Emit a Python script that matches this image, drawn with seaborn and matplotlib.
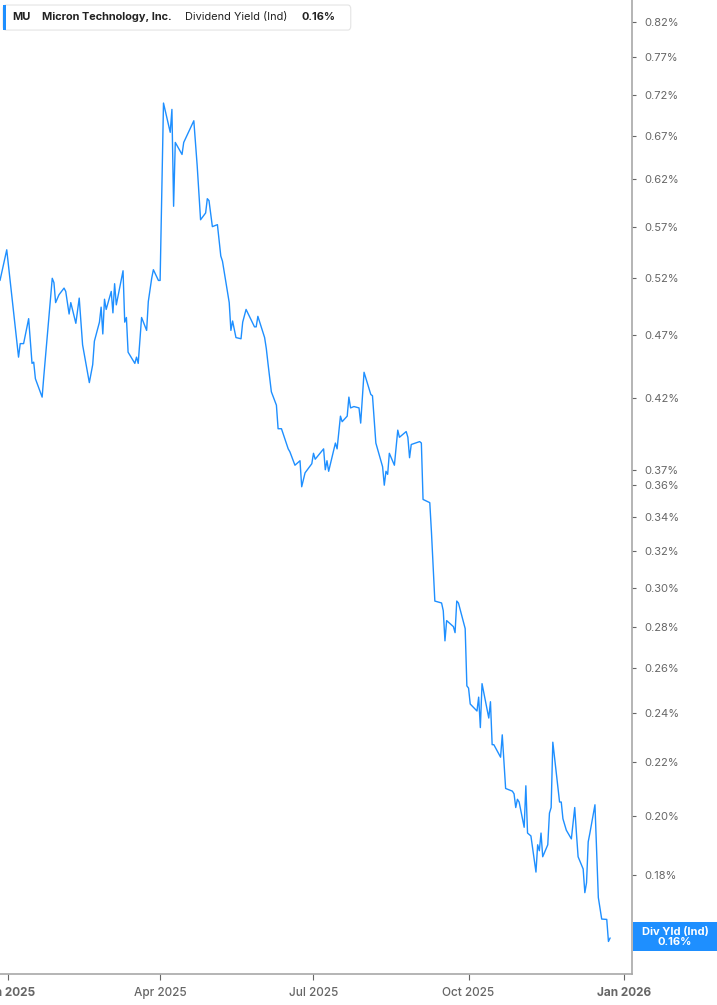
import pandas as pd
import matplotlib
matplotlib.use("Agg")
import matplotlib.pyplot as plt
from matplotlib.patches import Rectangle, FancyBboxPatch
from matplotlib.ticker import FixedLocator, NullLocator, FixedFormatter
import seaborn as sns

# values (dividend yield, %)
dates = [
    "2024-12-27", "2024-12-31", "2025-01-07", "2025-01-08", "2025-01-10", "2025-01-13",
    "2025-01-15", "2025-01-16", "2025-01-17", "2025-01-21", "2025-01-22", "2025-01-27",
    "2025-01-28", "2025-01-29", "2025-01-31", "2025-02-03", "2025-02-04", "2025-02-06",
    "2025-02-07", "2025-02-10", "2025-02-12", "2025-02-14", "2025-02-18", "2025-02-20",
    "2025-02-21", "2025-02-24", "2025-02-25", "2025-02-26", "2025-02-27", "2025-02-28",
    "2025-03-03", "2025-03-04", "2025-03-05", "2025-03-06", "2025-03-10", "2025-03-11",
    "2025-03-12", "2025-03-13", "2025-03-17", "2025-03-18", "2025-03-19", "2025-03-21",
    "2025-03-24", "2025-03-25", "2025-03-27", "2025-03-28", "2025-03-31", "2025-04-01",
    "2025-04-03", "2025-04-07", "2025-04-08", "2025-04-09", "2025-04-10", "2025-04-14",
    "2025-04-15", "2025-04-21", "2025-04-23", "2025-04-25", "2025-04-28", "2025-04-29",
    "2025-04-30", "2025-05-02", "2025-05-05", "2025-05-07", "2025-05-08", "2025-05-12",
    "2025-05-13", "2025-05-14", "2025-05-16", "2025-05-19", "2025-05-20", "2025-05-22",
    "2025-05-27", "2025-05-28", "2025-05-29", "2025-06-02", "2025-06-03", "2025-06-04",
    "2025-06-06", "2025-06-09", "2025-06-10", "2025-06-12", "2025-06-16", "2025-06-17",
    "2025-06-20", "2025-06-23", "2025-06-24", "2025-06-26", "2025-06-30", "2025-07-01",
    "2025-07-02", "2025-07-07", "2025-07-08", "2025-07-09", "2025-07-10", "2025-07-14",
    "2025-07-15", "2025-07-17", "2025-07-18", "2025-07-21", "2025-07-22", "2025-07-23",
    "2025-07-25", "2025-07-28", "2025-07-29", "2025-07-31", "2025-08-04", "2025-08-05",
    "2025-08-07", "2025-08-11", "2025-08-12", "2025-08-13", "2025-08-14", "2025-08-15",
    "2025-08-18", "2025-08-20", "2025-08-21", "2025-08-25", "2025-08-26", "2025-08-27",
    "2025-08-28", "2025-09-02", "2025-09-03", "2025-09-04", "2025-09-08", "2025-09-09",
    "2025-09-11", "2025-09-15", "2025-09-16", "2025-09-17", "2025-09-18", "2025-09-22",
    "2025-09-23", "2025-09-24", "2025-09-25", "2025-09-29", "2025-09-30", "2025-10-01",
    "2025-10-02", "2025-10-06", "2025-10-07", "2025-10-08", "2025-10-09", "2025-10-13",
    "2025-10-14", "2025-10-15", "2025-10-16", "2025-10-20", "2025-10-21", "2025-10-23",
    "2025-10-27", "2025-10-28", "2025-10-29", "2025-10-30", "2025-10-31", "2025-11-03",
    "2025-11-04", "2025-11-05", "2025-11-07", "2025-11-10", "2025-11-11", "2025-11-12",
    "2025-11-13", "2025-11-14", "2025-11-17", "2025-11-18", "2025-11-19", "2025-11-20",
    "2025-11-24", "2025-11-25", "2025-11-26", "2025-11-28", "2025-12-01", "2025-12-03",
    "2025-12-04", "2025-12-05", "2025-12-08", "2025-12-09", "2025-12-10", "2025-12-11",
    "2025-12-12", "2025-12-15", "2025-12-17", "2025-12-19", "2025-12-22", "2025-12-23",
    "2025-12-24",
]
div_yield = [
    0.518, 0.547, 0.452, 0.463, 0.463, 0.484,
    0.447, 0.448, 0.435, 0.421, 0.437, 0.520,
    0.516, 0.498, 0.505, 0.511, 0.508, 0.488,
    0.498, 0.480, 0.502, 0.462, 0.432, 0.446,
    0.465, 0.481, 0.494, 0.471, 0.501, 0.492,
    0.508, 0.489, 0.515, 0.496, 0.527, 0.481,
    0.485, 0.456, 0.447, 0.452, 0.447, 0.485,
    0.474, 0.499, 0.520, 0.528, 0.518, 0.518,
    0.710, 0.674, 0.702, 0.591, 0.662, 0.648,
    0.662, 0.688, 0.635, 0.577, 0.584, 0.599,
    0.597, 0.570, 0.572, 0.541, 0.536, 0.498,
    0.474, 0.482, 0.468, 0.467, 0.481, 0.492,
    0.477, 0.477, 0.486, 0.468, 0.459, 0.447,
    0.425, 0.415, 0.398, 0.398, 0.384, 0.382,
    0.373, 0.376, 0.359, 0.368, 0.374, 0.381,
    0.377, 0.384, 0.370, 0.376, 0.369, 0.388,
    0.384, 0.407, 0.403, 0.407, 0.421, 0.413,
    0.414, 0.413, 0.402, 0.440, 0.423, 0.422,
    0.388, 0.372, 0.360, 0.369, 0.367, 0.381,
    0.373, 0.397, 0.392, 0.396, 0.392, 0.378,
    0.387, 0.389, 0.388, 0.351, 0.349, 0.331,
    0.293, 0.292, 0.288, 0.273, 0.283, 0.280,
    0.277, 0.293, 0.292, 0.279, 0.252, 0.251,
    0.244, 0.241, 0.247, 0.234, 0.253, 0.238,
    0.245, 0.227, 0.227, 0.222, 0.231, 0.210,
    0.209, 0.208, 0.203, 0.206, 0.205, 0.196,
    0.211, 0.194, 0.193, 0.181, 0.190, 0.188,
    0.194, 0.186, 0.190, 0.201, 0.203, 0.228,
    0.205, 0.205, 0.199, 0.195, 0.192, 0.203,
    0.194, 0.186, 0.182, 0.1745, 0.1776, 0.191,
    0.194, 0.204, 0.173, 0.1665, 0.1664, 0.160,
    0.161,
]

y_ticks = [0.18, 0.20, 0.22, 0.24, 0.26, 0.28, 0.30, 0.32, 0.34, 0.36,
           0.37, 0.42, 0.47, 0.52, 0.57, 0.62, 0.67, 0.72, 0.77, 0.82]
x_ticks = ["2025-01-01", "2025-04-01", "2025-07-01", "2025-10-01", "2026-01-01"]
x_labels = ["Jan 2025", "Apr 2025", "Jul 2025", "Oct 2025", "Jan 2026"]
last_value = "0.16%"

df = pd.DataFrame({"date": pd.to_datetime(dates), "yield": div_yield})

sns.set_style("white")
plt.rcParams["font.family"] = ["Inter", "DejaVu Sans"]

line_color = "#1e8fff"
grey = "#666666"
spine_grey = "#a8a8a8"

fig = plt.figure(figsize=(7.17, 10.05), dpi=100)
ax = fig.add_axes([0.0, 0.0308, 0.8815, 0.9692])

sns.lineplot(data=df, x="date", y="yield", ax=ax, color=line_color, linewidth=1.0)

ax.set_yscale("log")
ax.set_ylim(0.151, 0.8527)
ax.set_xlim(pd.Timestamp("2024-12-27"), pd.Timestamp("2026-01-06"))

ax.yaxis.tick_right()
ax.yaxis.set_major_locator(FixedLocator(y_ticks))
ax.yaxis.set_minor_locator(NullLocator())
ax.yaxis.set_major_formatter(FixedFormatter([f"{t:.2f}%" for t in y_ticks]))
ax.set_xticks(pd.to_datetime(x_ticks))
ax.set_xticklabels(x_labels)

ax.set_xlabel("")
ax.set_ylabel("")

for s in ["left", "top"]:
    ax.spines[s].set_visible(False)
for s in ["right", "bottom"]:
    ax.spines[s].set_color(spine_grey)
    ax.spines[s].set_linewidth(1.2)

ax.tick_params(axis="y", which="major", right=True, left=False, length=3, width=0.8,
               color=grey, labelsize=8, labelcolor=grey, pad=6)
ax.tick_params(axis="x", which="major", bottom=True, length=4, width=0.8,
               color=grey, labelsize=8.5, labelcolor=grey, pad=5)
for lbl in ax.get_xticklabels():
    if lbl.get_text().startswith("Jan"):
        lbl.set_fontweight("bold")
    else:
        lbl.set_fontweight("medium")

# header box
fig.patches.append(FancyBboxPatch((0.0042, 0.9701), 0.485, 0.0249,
                                  boxstyle="round,pad=0,rounding_size=0.004",
                                  transform=fig.transFigure, facecolor="white",
                                  edgecolor="#e4e4e4", linewidth=0.8, zorder=5))
fig.patches.append(Rectangle((0.0042, 0.9701), 0.0042, 0.0249, transform=fig.transFigure,
                             facecolor=line_color, edgecolor="none", zorder=6))
hy = 0.9826
hs = 7.9
fig.text(0.0167, hy, "MU", fontsize=hs, fontweight="bold", color="#222222", va="center", zorder=7)
fig.text(0.0586, hy, "Micron Technology, Inc.", fontsize=hs, fontweight="bold",
         color="#222222", va="center", zorder=7)
fig.text(0.258, hy, "Dividend Yield (Ind)", fontsize=hs, color="#222222", va="center", zorder=7)
fig.text(0.421, hy, last_value, fontsize=hs, fontweight="bold", color="#222222", va="center", zorder=7)

# last value tag
fig.patches.append(Rectangle((0.883, 0.0537), 0.117, 0.0289, transform=fig.transFigure,
                             facecolor=line_color, edgecolor="none", zorder=5))
fig.text(0.9414, 0.0726, "Div Yld (Ind)", fontsize=8, fontweight="bold", color="white",
         ha="center", va="center", zorder=7)
fig.text(0.9414, 0.0627, last_value, fontsize=8, fontweight="bold", color="white",
         ha="center", va="center", zorder=7)

fig.savefig("out.png", dpi=100)
